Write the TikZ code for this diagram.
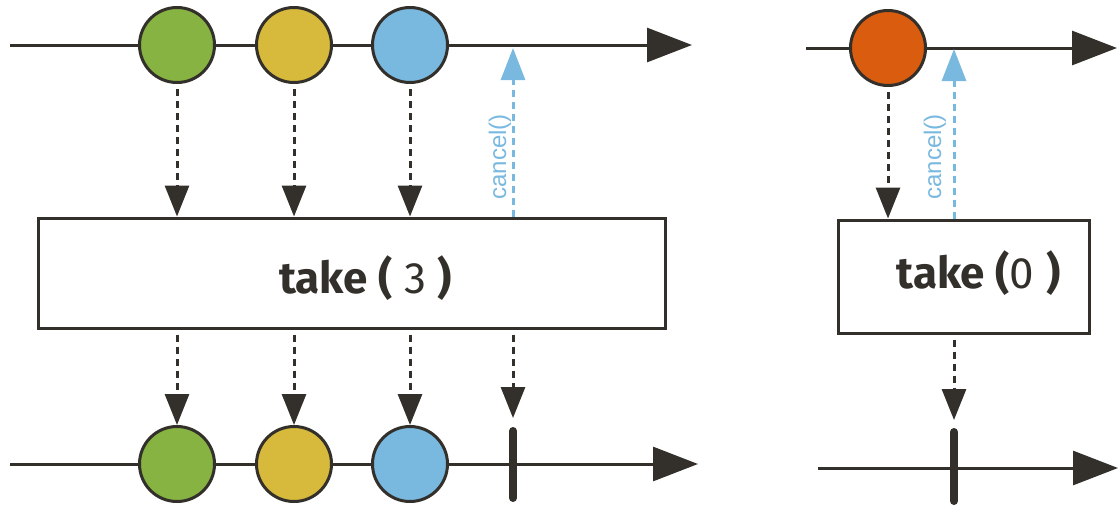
\documentclass[tikz,border=0pt]{standalone}
\usepackage{fontspec}
\setmainfont{Fira Sans}
\newfontfamily\callfont{Liberation Sans}
\usetikzlibrary{arrows.meta,positioning}

\definecolor{ink}{HTML}{33302B}
\definecolor{mgreen}{HTML}{86B341}
\definecolor{myellow}{HTML}{D7B93C}
\definecolor{mblue}{HTML}{79B8DF}
\definecolor{morange}{HTML}{DA5C0F}

\tikzset{
  timeline/.style={draw=ink, line width=1.5pt, -{Triangle[length=22.5pt,width=17pt]}},
  marble/.style={circle, draw=ink, line width=1.5pt, minimum size=37.5pt, inner sep=0pt},
  opbox/.style={draw=ink, line width=1.5pt, fill=white, inner sep=0pt},
  oplabel/.style={text=ink, font=\fontsize{22}{25}\selectfont},
  flow/.style={draw=ink, line width=1.5pt, dash pattern=on 3.5pt off 2.5pt,
    -{Triangle[length=15.5pt,width=12pt]}, shorten <=2.5pt},
  cancelflow/.style={draw=mblue, line width=1.5pt, dash pattern=on 3.5pt off 2.5pt,
    -{Triangle[length=16pt,width=12pt]}},
  calllabel/.style={text=mblue, font=\callfont\fontsize{12}{14}\selectfont, rotate=90, anchor=base, inner sep=0pt},
  stopbar/.style={draw=ink, line width=4pt, line cap=round},
}

\begin{document}
\begin{tikzpicture}[x=0.5pt,y=-0.5pt]
  \useasboundingbox (0,0) rectangle (1120,509);
  %--------------- take(3): timelines ---------------
  \coordinate (srcA) at (10,45);
  \coordinate (srcAend) at (692,45);
  \coordinate (outA) at (10,464);
  \coordinate (outAend) at (698,464);
  \draw[timeline] (srcA) -- (srcAend);
  \draw[timeline] (outA) -- (outAend);
  % source items
  \node[marble, fill=mgreen] (a1) at (177,45) {};
  \node[marble, fill=myellow] (a2) at (294,45) {};
  \node[marble, fill=mblue] (a3) at (410,45) {};
  % emitted items
  \node[marble, fill=mgreen] (b1) at (177,464) {};
  \node[marble, fill=myellow] (b2) at (294,464) {};
  \node[marble, fill=mblue] (b3) at (410,464) {};
  % completion
  \coordinate (endA) at (513,418);
  \coordinate (barAtop) at (513,431);
  \coordinate (barAbot) at (513,498);
  \draw[stopbar] (barAtop) -- (barAbot);
  % operator
  \node[opbox, minimum width=313.5pt, minimum height=55pt] (take3) at (351.5,273) {};
  \node[oplabel, anchor=base] (take3txt) at (365.5,293) {\textbf{take (} 3 \textbf{)}};
  %--------------- take(3): arrows ---------------
  \foreach \i in {1,2,3} {
    \draw[flow] (a\i) -- (a\i |- take3.north);
    \draw[flow] (take3.south -| b\i) -- (b\i);
  }
  \draw[flow] (take3.south -| endA) -- (endA);
  \coordinate (cancelA) at (513,48);
  \draw[cancelflow] (take3.north -| cancelA) -- (cancelA);
  \node[calllabel] (cancelAtxt) at (506,157) {cancel()};

  %--------------- take(0): timelines ---------------
  \coordinate (srcB) at (806,48);
  \coordinate (srcBend) at (1117,48);
  \coordinate (outB) at (818,468);
  \coordinate (outBend) at (1118,468);
  \draw[timeline] (srcB) -- (srcBend);
  \draw[timeline] (outB) -- (outBend);
  \node[marble, fill=morange] (c1) at (888,48) {};
  \coordinate (endB) at (954,420);
  \coordinate (barBtop) at (954,432);
  \coordinate (barBbot) at (954,501);
  \draw[stopbar] (barBtop) -- (barBbot);
  % operator
  \node[opbox, minimum width=125.5pt, minimum height=56.5pt] (take0) at (963.5,276.5) {};
  \node[oplabel, anchor=base] (take0txt) at (978.5,288) {\textbf{take (}0 \textbf{)}};
  %--------------- take(0): arrows ---------------
  \draw[flow] (c1) -- (c1 |- take0.north);
  \draw[flow] (take0.south -| endB) -- (endB);
  \coordinate (cancelB) at (954,49);
  \draw[cancelflow] (take0.north -| cancelB) -- (cancelB);
  \node[calllabel] (cancelBtxt) at (941,157) {cancel()};
\end{tikzpicture}
\end{document}
